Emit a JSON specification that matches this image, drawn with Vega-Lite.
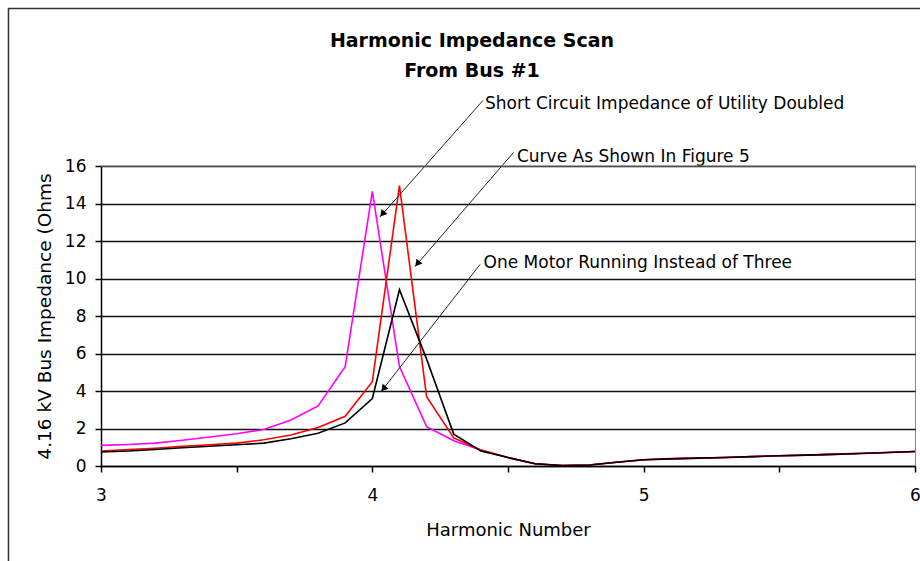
{
  "$schema": "https://vega.github.io/schema/vega-lite/v6.json",
  "width": 814,
  "height": 300,
  "autosize": {"type": "none"},
  "padding": {"left": 101, "top": 166, "right": 5, "bottom": 95},
  "background": "white",
  "config": {
    "font": "DejaVu Sans",
    "view": {"stroke": "#888888", "strokeWidth": 1}
  },
  "title": {
    "text": ["Harmonic Impedance Scan", "From Bus #1"],
    "font": "DejaVu Sans",
    "fontSize": 19,
    "fontWeight": "bold",
    "color": "black",
    "anchor": "middle",
    "frame": "group",
    "dx": -36,
    "lineHeight": 30,
    "baseline": "bottom",
    "offset": -92
  },
  "datasets": {
    "curves": [
      {"series": "Short Circuit Impedance of Utility Doubled", "harmonic": 3.0, "ohms": 1.1},
      {"series": "Short Circuit Impedance of Utility Doubled", "harmonic": 3.1, "ohms": 1.15},
      {"series": "Short Circuit Impedance of Utility Doubled", "harmonic": 3.2, "ohms": 1.22},
      {"series": "Short Circuit Impedance of Utility Doubled", "harmonic": 3.3, "ohms": 1.37},
      {"series": "Short Circuit Impedance of Utility Doubled", "harmonic": 3.4, "ohms": 1.55},
      {"series": "Short Circuit Impedance of Utility Doubled", "harmonic": 3.5, "ohms": 1.72},
      {"series": "Short Circuit Impedance of Utility Doubled", "harmonic": 3.6, "ohms": 1.95},
      {"series": "Short Circuit Impedance of Utility Doubled", "harmonic": 3.7, "ohms": 2.45},
      {"series": "Short Circuit Impedance of Utility Doubled", "harmonic": 3.8, "ohms": 3.2},
      {"series": "Short Circuit Impedance of Utility Doubled", "harmonic": 3.9, "ohms": 5.3},
      {"series": "Short Circuit Impedance of Utility Doubled", "harmonic": 4.0, "ohms": 14.65},
      {"series": "Short Circuit Impedance of Utility Doubled", "harmonic": 4.1, "ohms": 5.3},
      {"series": "Short Circuit Impedance of Utility Doubled", "harmonic": 4.2, "ohms": 2.1},
      {"series": "Short Circuit Impedance of Utility Doubled", "harmonic": 4.3, "ohms": 1.35},
      {"series": "Short Circuit Impedance of Utility Doubled", "harmonic": 4.4, "ohms": 0.85},
      {"series": "Short Circuit Impedance of Utility Doubled", "harmonic": 4.5, "ohms": 0.45},
      {"series": "Short Circuit Impedance of Utility Doubled", "harmonic": 4.6, "ohms": 0.12},
      {"series": "Short Circuit Impedance of Utility Doubled", "harmonic": 4.7, "ohms": 0.02},
      {"series": "Short Circuit Impedance of Utility Doubled", "harmonic": 4.8, "ohms": 0.05},
      {"series": "Short Circuit Impedance of Utility Doubled", "harmonic": 4.9, "ohms": 0.2},
      {"series": "Short Circuit Impedance of Utility Doubled", "harmonic": 5.0, "ohms": 0.33},
      {"series": "Short Circuit Impedance of Utility Doubled", "harmonic": 5.1, "ohms": 0.4},
      {"series": "Short Circuit Impedance of Utility Doubled", "harmonic": 5.2, "ohms": 0.42},
      {"series": "Short Circuit Impedance of Utility Doubled", "harmonic": 5.3, "ohms": 0.45},
      {"series": "Short Circuit Impedance of Utility Doubled", "harmonic": 5.4, "ohms": 0.5},
      {"series": "Short Circuit Impedance of Utility Doubled", "harmonic": 5.5, "ohms": 0.55},
      {"series": "Short Circuit Impedance of Utility Doubled", "harmonic": 5.6, "ohms": 0.58},
      {"series": "Short Circuit Impedance of Utility Doubled", "harmonic": 5.7, "ohms": 0.64},
      {"series": "Short Circuit Impedance of Utility Doubled", "harmonic": 5.8, "ohms": 0.68},
      {"series": "Short Circuit Impedance of Utility Doubled", "harmonic": 5.9, "ohms": 0.72},
      {"series": "Short Circuit Impedance of Utility Doubled", "harmonic": 6.0, "ohms": 0.77},
      {"series": "Curve As Shown In Figure 5", "harmonic": 3.0, "ohms": 0.8},
      {"series": "Curve As Shown In Figure 5", "harmonic": 3.1, "ohms": 0.88},
      {"series": "Curve As Shown In Figure 5", "harmonic": 3.2, "ohms": 0.95},
      {"series": "Curve As Shown In Figure 5", "harmonic": 3.3, "ohms": 1.05},
      {"series": "Curve As Shown In Figure 5", "harmonic": 3.4, "ohms": 1.13},
      {"series": "Curve As Shown In Figure 5", "harmonic": 3.5, "ohms": 1.22},
      {"series": "Curve As Shown In Figure 5", "harmonic": 3.6, "ohms": 1.4},
      {"series": "Curve As Shown In Figure 5", "harmonic": 3.7, "ohms": 1.65},
      {"series": "Curve As Shown In Figure 5", "harmonic": 3.8, "ohms": 2.05},
      {"series": "Curve As Shown In Figure 5", "harmonic": 3.9, "ohms": 2.65},
      {"series": "Curve As Shown In Figure 5", "harmonic": 4.0, "ohms": 4.5},
      {"series": "Curve As Shown In Figure 5", "harmonic": 4.1, "ohms": 14.95},
      {"series": "Curve As Shown In Figure 5", "harmonic": 4.2, "ohms": 3.7},
      {"series": "Curve As Shown In Figure 5", "harmonic": 4.3, "ohms": 1.5},
      {"series": "Curve As Shown In Figure 5", "harmonic": 4.4, "ohms": 0.85},
      {"series": "Curve As Shown In Figure 5", "harmonic": 4.5, "ohms": 0.45},
      {"series": "Curve As Shown In Figure 5", "harmonic": 4.6, "ohms": 0.12},
      {"series": "Curve As Shown In Figure 5", "harmonic": 4.7, "ohms": 0.02},
      {"series": "Curve As Shown In Figure 5", "harmonic": 4.8, "ohms": 0.05},
      {"series": "Curve As Shown In Figure 5", "harmonic": 4.9, "ohms": 0.2},
      {"series": "Curve As Shown In Figure 5", "harmonic": 5.0, "ohms": 0.33},
      {"series": "Curve As Shown In Figure 5", "harmonic": 5.1, "ohms": 0.38},
      {"series": "Curve As Shown In Figure 5", "harmonic": 5.2, "ohms": 0.42},
      {"series": "Curve As Shown In Figure 5", "harmonic": 5.3, "ohms": 0.45},
      {"series": "Curve As Shown In Figure 5", "harmonic": 5.4, "ohms": 0.5},
      {"series": "Curve As Shown In Figure 5", "harmonic": 5.5, "ohms": 0.55},
      {"series": "Curve As Shown In Figure 5", "harmonic": 5.6, "ohms": 0.58},
      {"series": "Curve As Shown In Figure 5", "harmonic": 5.7, "ohms": 0.62},
      {"series": "Curve As Shown In Figure 5", "harmonic": 5.8, "ohms": 0.67},
      {"series": "Curve As Shown In Figure 5", "harmonic": 5.9, "ohms": 0.72},
      {"series": "Curve As Shown In Figure 5", "harmonic": 6.0, "ohms": 0.77},
      {"series": "One Motor Running Instead of Three", "harmonic": 3.0, "ohms": 0.75},
      {"series": "One Motor Running Instead of Three", "harmonic": 3.1, "ohms": 0.8},
      {"series": "One Motor Running Instead of Three", "harmonic": 3.2, "ohms": 0.88},
      {"series": "One Motor Running Instead of Three", "harmonic": 3.3, "ohms": 0.97},
      {"series": "One Motor Running Instead of Three", "harmonic": 3.4, "ohms": 1.05},
      {"series": "One Motor Running Instead of Three", "harmonic": 3.5, "ohms": 1.13},
      {"series": "One Motor Running Instead of Three", "harmonic": 3.6, "ohms": 1.22},
      {"series": "One Motor Running Instead of Three", "harmonic": 3.7, "ohms": 1.45},
      {"series": "One Motor Running Instead of Three", "harmonic": 3.8, "ohms": 1.75},
      {"series": "One Motor Running Instead of Three", "harmonic": 3.9, "ohms": 2.3},
      {"series": "One Motor Running Instead of Three", "harmonic": 4.0, "ohms": 3.6},
      {"series": "One Motor Running Instead of Three", "harmonic": 4.1, "ohms": 9.4},
      {"series": "One Motor Running Instead of Three", "harmonic": 4.2, "ohms": 5.7},
      {"series": "One Motor Running Instead of Three", "harmonic": 4.3, "ohms": 1.7},
      {"series": "One Motor Running Instead of Three", "harmonic": 4.4, "ohms": 0.8},
      {"series": "One Motor Running Instead of Three", "harmonic": 4.5, "ohms": 0.45},
      {"series": "One Motor Running Instead of Three", "harmonic": 4.6, "ohms": 0.12},
      {"series": "One Motor Running Instead of Three", "harmonic": 4.7, "ohms": 0.02},
      {"series": "One Motor Running Instead of Three", "harmonic": 4.8, "ohms": 0.05},
      {"series": "One Motor Running Instead of Three", "harmonic": 4.9, "ohms": 0.2},
      {"series": "One Motor Running Instead of Three", "harmonic": 5.0, "ohms": 0.33},
      {"series": "One Motor Running Instead of Three", "harmonic": 5.1, "ohms": 0.38},
      {"series": "One Motor Running Instead of Three", "harmonic": 5.2, "ohms": 0.42},
      {"series": "One Motor Running Instead of Three", "harmonic": 5.3, "ohms": 0.45},
      {"series": "One Motor Running Instead of Three", "harmonic": 5.4, "ohms": 0.5},
      {"series": "One Motor Running Instead of Three", "harmonic": 5.5, "ohms": 0.55},
      {"series": "One Motor Running Instead of Three", "harmonic": 5.6, "ohms": 0.58},
      {"series": "One Motor Running Instead of Three", "harmonic": 5.7, "ohms": 0.62},
      {"series": "One Motor Running Instead of Three", "harmonic": 5.8, "ohms": 0.67},
      {"series": "One Motor Running Instead of Three", "harmonic": 5.9, "ohms": 0.72},
      {"series": "One Motor Running Instead of Three", "harmonic": 6.0, "ohms": 0.77}
    ],
    "notes": [
      {"label": "Short Circuit Impedance of Utility Doubled", "harmonic": 4.415, "ohms": 19.3},
      {"label": "Curve As Shown In Figure 5", "harmonic": 4.533, "ohms": 16.5},
      {"label": "One Motor Running Instead of Three", "harmonic": 4.41, "ohms": 10.85}
    ],
    "arrows": [
      {"id": "a1", "harmonic": 4.408, "ohms": 19.5},
      {"id": "a1", "harmonic": 4.028, "ohms": 13.28},
      {"id": "a2", "harmonic": 4.52, "ohms": 16.72},
      {"id": "a2", "harmonic": 4.157, "ohms": 10.63},
      {"id": "a3", "harmonic": 4.397, "ohms": 10.75},
      {"id": "a3", "harmonic": 4.032, "ohms": 3.96}
    ],
    "heads": [
      {"id": "a1", "harmonic": 4.037, "ohms": 13.44},
      {"id": "a2", "harmonic": 4.166, "ohms": 10.79},
      {"id": "a3", "harmonic": 4.041, "ohms": 4.12}
    ]
  },
  "encoding": {
    "x": {
      "field": "harmonic",
      "type": "quantitative",
      "scale": {"domain": [3, 6], "nice": false, "zero": false},
      "axis": {
        "title": "Harmonic Number",
        "values": [3, 3.5, 4, 4.5, 5, 5.5, 6],
        "labelExpr": "datum.value % 1 == 0 ? format(datum.value, 'd') : ''",
        "grid": false,
        "tickSize": 6,
        "tickColor": "black",
        "tickWidth": 1.5,
        "domainColor": "black",
        "domainWidth": 1.5,
        "labelPadding": 15,
        "labelFontSize": 17,
        "labelColor": "black",
        "labelFlush": false,
        "labelOverlap": false,
        "titleFontSize": 18,
        "titleFontWeight": "normal",
        "titleColor": "black",
        "titlePadding": 18
      }
    },
    "y": {
      "field": "ohms",
      "type": "quantitative",
      "scale": {"domain": [0, 16], "nice": false, "zero": true},
      "axis": {
        "title": "4.16 kV Bus Impedance (Ohms",
        "values": [0, 2, 4, 6, 8, 10, 12, 14, 16],
        "grid": true,
        "gridColor": "#111111",
        "gridWidth": 1.6,
        "tickSize": 6,
        "tickColor": "black",
        "tickWidth": 1.5,
        "domainColor": "black",
        "domainWidth": 1.5,
        "labelPadding": 9,
        "labelFontSize": 17,
        "labelColor": "black",
        "labelFlush": false,
        "labelOverlap": false,
        "titleFontSize": 18.5,
        "titleFontWeight": "normal",
        "titleColor": "black",
        "titlePadding": 10
      }
    }
  },
  "layer": [
    {
      "data": {"name": "curves"},
      "mark": {"type": "line", "strokeWidth": 1.6, "clip": true},
      "encoding": {
        "color": {
          "field": "series",
          "type": "nominal",
          "scale": {
            "domain": ["Curve As Shown In Figure 5", "Short Circuit Impedance of Utility Doubled", "One Motor Running Instead of Three"],
            "range": ["#FF0000", "#FF00FF", "#000000"]
          },
          "legend": null
        }
      }
    },
    {
      "data": {"name": "arrows"},
      "mark": {"type": "line", "color": "#222222", "strokeWidth": 1},
      "encoding": {
        "detail": {"field": "id"}
      }
    },
    {
      "data": {"name": "heads"},
      "mark": {"type": "point", "shape": "triangle-up", "filled": true, "color": "black", "opacity": 1, "size": 60, "angle": 220}
    },
    {
      "data": {"name": "notes"},
      "mark": {"type": "text", "align": "left", "baseline": "middle", "fontSize": 17, "color": "black", "font": "DejaVu Sans"},
      "encoding": {
        "text": {"field": "label"}
      }
    },
    {
      "data": {"values": [{"left": 2.659, "right": 6.1, "top": 24.4, "bottom": -6}]},
      "mark": {"type": "rect", "fill": null, "fillOpacity": 0, "stroke": "#333333", "strokeWidth": 1.5},
      "encoding": {
        "x": {"field": "left", "type": "quantitative"},
        "x2": {"field": "right"},
        "y": {"field": "top", "type": "quantitative"},
        "y2": {"field": "bottom"}
      }
    },
    {
      "data": {"values": [{"level": 16}]},
      "mark": {"type": "rule", "color": "#888888", "strokeWidth": 1},
      "encoding": {
        "x": {"value": 0},
        "x2": {"value": 814},
        "y": {"field": "level", "type": "quantitative"}
      }
    }
  ]
}
